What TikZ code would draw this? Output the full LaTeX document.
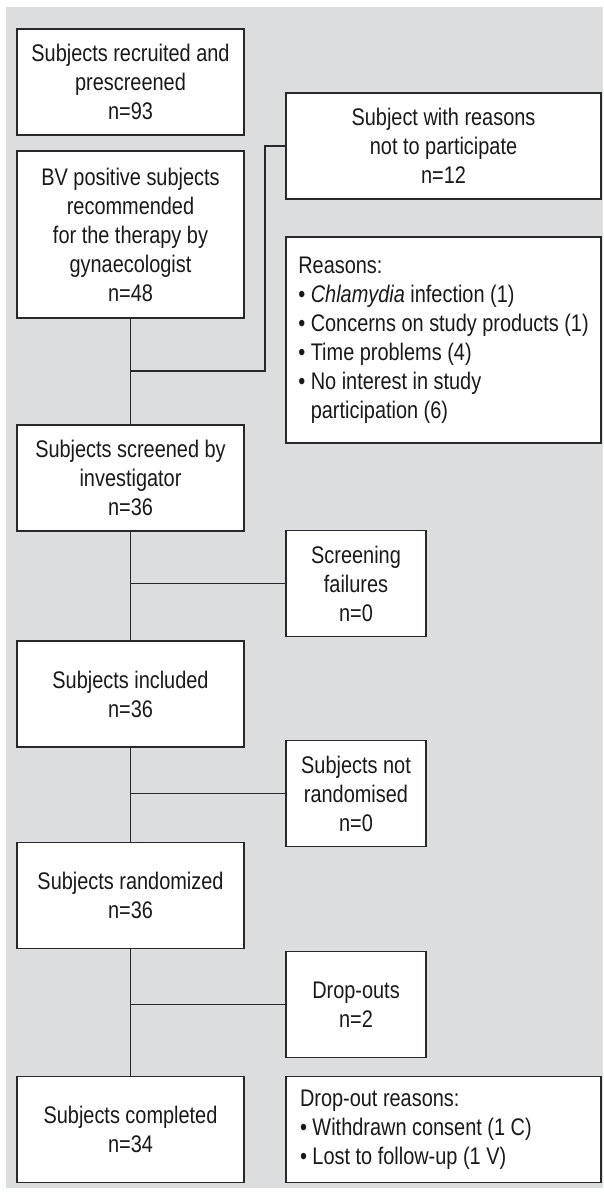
\documentclass[tikz,border=0pt]{standalone}
\usepackage{fontspec}
\setmainfont[FakeStretch=0.83]{Liberation Sans}
\definecolor{bg}{RGB}{220,221,223}
\definecolor{ln}{RGB}{40,40,40}
\definecolor{tx}{RGB}{25,25,25}
\newcommand{\hang}{\phantom{•\ }}
\begin{document}
\begin{tikzpicture}[x=1pt,y=-1pt,
  box/.style={draw=ln,line width=1.6pt,fill=white,inner sep=0pt,align=center,
    text=tx,font=\fontsize{24}{29}\selectfont},
  mainbox/.style={box,minimum width=227pt,minimum height=106pt},
  widebox/.style={box,minimum width=315pt,minimum height=106pt},
  sidebox/.style={box,minimum width=140pt,minimum height=106pt},
  conn/.style={draw=ln,line width=1.6pt}]
\useasboundingbox (0,0) rectangle (603,1193);
\fill[bg] (6,7) rectangle (603,1188);

\node[mainbox] (b1) at (130.5,82) {Subjects recruited and\\prescreened\\n=93};
\node[mainbox,minimum height=167pt] (b2) at (130.5,234.5) {BV positive subjects\\recommended\\for the therapy by\\gynaecologist\\n=48};
\node[widebox] (r1) at (443.5,146) {Subject with reasons\\not to participate\\n=12};
\node[widebox,minimum height=206pt,align=left] (r2) at (443.5,340)
  {Reasons:\\• \textit{Chlamydia} infection (1)\\• Concerns on study products (1)\\• Time problems (4)\\• No interest in study\\\hang participation (6)};
\node[mainbox] (b3) at (130.5,478) {Subjects screened by\\investigator\\n=36};
\node[sidebox] (f1) at (356,583.5) {Screening\\failures\\n=0};
\node[mainbox] (b4) at (130.5,694) {Subjects included\\n=36};
\node[sidebox] (f2) at (356,793.5) {Subjects not\\randomised\\n=0};
\node[mainbox] (b5) at (130.5,895.5) {Subjects randomized\\n=36};
\node[sidebox] (f3) at (356,1004.5) {Drop-outs\\n=2};
\node[mainbox] (b6) at (130.5,1129.5) {Subjects completed\\n=34};
\node[widebox,align=left] (r3) at (443.5,1129.5)
  {\makebox[287pt][l]{Drop-out reasons:}\\• Withdrawn consent (1 C)\\• Lost to follow-up (1 V)};

\coordinate (j1) at (130.5,371);
\coordinate (k1) at (265,146);
\draw[conn] (b2.south) -- (b3.north);
\draw[conn] (j1) -| (k1) -- (r1.west);
\draw[conn] (b3.south) -- (b4.north);
\draw[conn] (b3.south |- f1.west) -- (f1.west);
\draw[conn] (b4.south) -- (b5.north);
\draw[conn] (b4.south |- f2.west) -- (f2.west);
\draw[conn] (b5.south) -- (b6.north);
\draw[conn] (b5.south |- f3.west) -- (f3.west);
\end{tikzpicture}
\end{document}
